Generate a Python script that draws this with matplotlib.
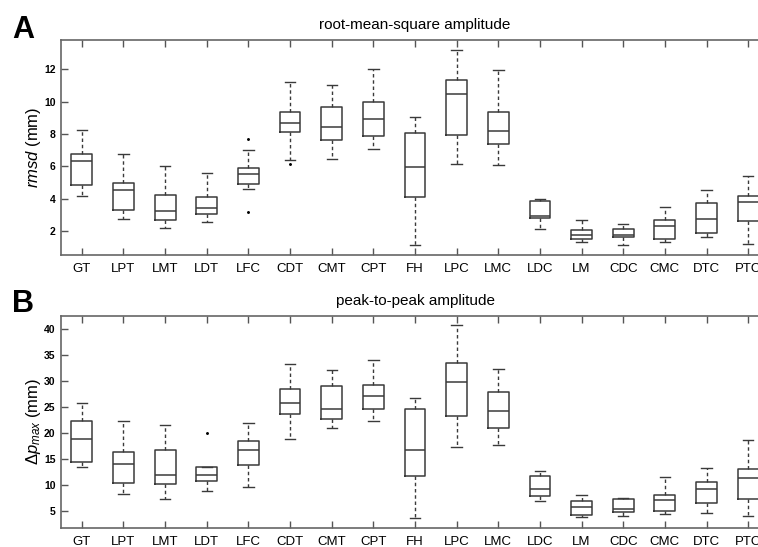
import numpy as np
import matplotlib.pyplot as plt

plt.rcParams['font.family'] = ['Liberation Sans', 'DejaVu Sans']
plt.rcParams['mathtext.fontset'] = 'custom'
plt.rcParams['mathtext.it'] = 'Liberation Sans:italic'
plt.rcParams['mathtext.rm'] = 'Liberation Sans'

names = ['GT', 'LPT', 'LMT', 'LDT', 'LFC', 'CDT', 'CMT', 'CPT', 'FH',
         'LPC', 'LMC', 'LDC', 'LM', 'CDC', 'CMC', 'DTC', 'PTC']

# panel A: root-mean-square amplitude (mm)
rms_lo = [4.18, 2.72, 2.21, 2.53, 4.59, 6.38, 6.47, 7.04, 1.14, 6.16, 6.07, 2.12, 1.30, 1.16, 1.30, 1.61, 1.22]
rms_q1 = [4.82, 3.30, 2.70, 3.03, 4.88, 8.13, 7.62, 7.86, 4.08, 7.91, 7.35, 2.82, 1.51, 1.61, 1.49, 1.88, 2.60]
rms_med = [6.34, 4.51, 3.21, 3.40, 5.52, 8.65, 8.40, 8.95, 5.95, 10.46, 8.15, 2.93, 1.73, 1.75, 2.29, 2.74, 3.81]
rms_q3 = [6.73, 4.96, 4.20, 4.08, 5.91, 9.37, 9.67, 10.00, 8.07, 11.34, 9.35, 3.87, 2.04, 2.14, 2.66, 3.71, 4.18]
rms_hi = [8.23, 6.73, 5.99, 5.60, 7.00, 11.18, 11.01, 12.00, 9.04, 13.19, 11.94, 3.98, 2.68, 2.41, 3.46, 4.51, 5.40]
rms_out = [[], [], [], [], [7.70, 3.15], [6.14], [], [], [], [], [], [], [], [], [], [], []]

# panel B: peak-to-peak amplitude (mm)
p2p_lo = [13.53, 8.27, 7.24, 8.85, 9.68, 18.78, 20.90, 22.30, 3.65, 17.24, 17.70, 6.86, 3.78, 4.10, 4.36, 4.62, 4.10]
p2p_q1 = [14.36, 10.32, 10.19, 10.80, 13.78, 23.72, 22.76, 24.55, 11.80, 23.33, 20.90, 7.95, 4.17, 4.87, 5.06, 6.60, 7.31]
p2p_med = [18.85, 14.04, 11.92, 11.90, 16.73, 25.70, 24.55, 27.10, 16.67, 29.87, 24.30, 9.30, 5.71, 5.32, 7.12, 9.17, 11.28]
p2p_q3 = [22.30, 16.28, 16.80, 13.50, 18.46, 28.40, 28.97, 29.30, 24.60, 33.40, 27.80, 11.67, 6.92, 7.31, 8.08, 10.64, 13.08]
p2p_hi = [25.70, 22.24, 21.60, 13.50, 21.99, 33.27, 32.18, 34.10, 26.70, 40.70, 32.40, 12.70, 8.08, 7.44, 11.60, 13.33, 18.60]
p2p_out = [[], [], [], [20.06], [], [], [], [], [], [], [], [], [], [], [], [], []]


def make_stats(lo, q1, med, q3, hi, out):
    return [dict(whislo=a, q1=b, med=c, q3=d, whishi=e, fliers=f)
            for a, b, c, d, e, f in zip(lo, q1, med, q3, hi, out)]


def draw_panel(ax, stats, title, ylabel, yticks, ylim):
    ec = '#3a3a3a'
    ax.bxp(stats, positions=np.arange(1, len(names) + 1), widths=0.5,
           boxprops=dict(color=ec, linewidth=1.1),
           medianprops=dict(color=ec, linewidth=1.1),
           whiskerprops=dict(color=ec, linewidth=1.0, linestyle=(0, (2.5, 2))),
           capprops=dict(color=ec, linewidth=1.0),
           flierprops=dict(marker='.', markersize=2.2, markerfacecolor='black',
                           markeredgecolor='black', linestyle='none'))
    ax.set_xlim(0.5, len(names) + 0.5)
    ax.set_ylim(*ylim)
    ax.set_xticks(np.arange(1, len(names) + 1))
    ax.set_xticklabels(names, fontsize=9.5)
    ax.set_yticks(yticks)
    ax.set_yticklabels([str(t) for t in yticks], fontsize=7.5, fontweight='bold')
    ax.tick_params(direction='in', length=5, width=1, color='#555555',
                   top=True, bottom=True, left=True, right=False, pad=4)
    ax.tick_params(axis='x', pad=6)
    for s in ['left', 'top', 'bottom']:
        ax.spines[s].set_color('#666666')
        ax.spines[s].set_linewidth(1.2)
    ax.spines['right'].set_visible(False)
    ax.set_title(title, fontsize=11, pad=8)
    ax.set_ylabel(ylabel, fontsize=12, labelpad=1)


fig = plt.figure(figsize=(7.58, 5.47), dpi=100)
ax1 = fig.add_axes([0.0805, 0.5338, 0.934, 0.3931])
ax2 = fig.add_axes([0.0805, 0.0353, 0.934, 0.3870])

draw_panel(ax1, make_stats(rms_lo, rms_q1, rms_med, rms_q3, rms_hi, rms_out),
           'root-mean-square amplitude', r'$\mathit{rmsd}$ (mm)',
           [2, 4, 6, 8, 10, 12], (0.52, 13.8))
draw_panel(ax2, make_stats(p2p_lo, p2p_q1, p2p_med, p2p_q3, p2p_hi, p2p_out),
           'peak-to-peak amplitude', r'$\mathit{\Delta p}_{\mathit{max}}$ (mm)',
           [5, 10, 15, 20, 25, 30, 35, 40], (1.8, 42.5))

fig.text(12 / 758, 1 - 38 / 547, 'A', fontsize=22, fontweight='bold',
         ha='left', va='baseline')
fig.text(12 / 758, 1 - 312 / 547, 'B', fontsize=22, fontweight='bold',
         ha='left', va='baseline')

fig.savefig('out.png', dpi=100)
